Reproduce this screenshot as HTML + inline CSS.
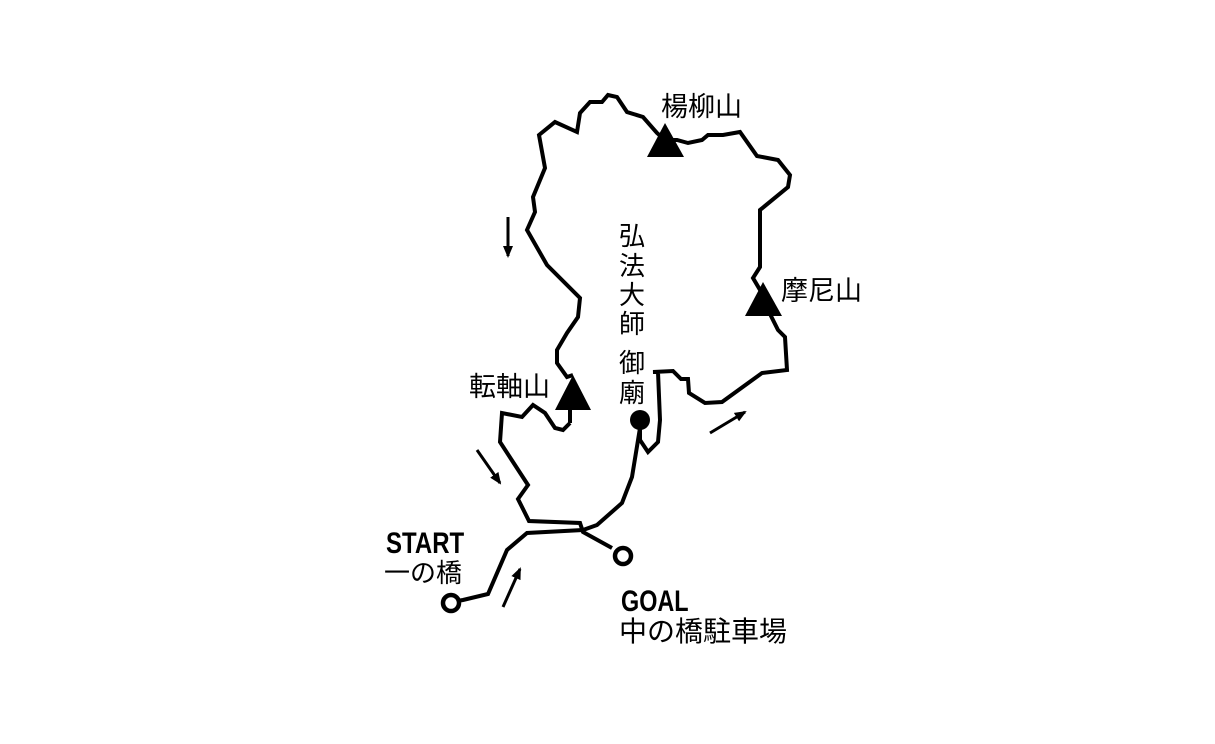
<!DOCTYPE html>
<html><head><meta charset="utf-8"><style>
body{margin:0;background:#fff;width:1215px;height:744px;overflow:hidden}
svg{display:block}
text{font-family:"Liberation Sans","Noto Sans CJK JP",sans-serif;fill:#000}
</style></head><body>
<svg width="1215" height="744" viewBox="0 0 1215 744">
<defs><marker id="ah" markerWidth="12" markerHeight="10" refX="10" refY="5" orient="auto" markerUnits="userSpaceOnUse"><path d="M0,0 L12,5 L0,10 Z" fill="#000"/></marker></defs>
<g fill="none" stroke="#000" stroke-width="4" stroke-linejoin="miter">
<polyline points="570,423 563,430 555,428 545,413 533,405 522,417 502,413 500,442 528,485 518,499 529,521 580,523 583,532 612,548"/>
<polyline points="451,602 463,600 488,594 507,550 527,533 583,530 597,525 622,503 632,477 640,428 640,440 648,452 658,442 660,420 658,372 653,372 673,371 681,379 688,379 689,393 705,403 722,402 762,373 787,370 785,337 778,330 773,320 763,300"/>
<polyline points="570,410 570,423"/>
<polyline points="573,375 567,377 557,363 557,350 567,333 578,317 580,298 547,265 527,230 535,212 533,197 545,168 539,135 555,122 577,132 580,113 590,102 602,102 608,95 617,97 627,112 643,117 657,133 665,140 677,140 688,143 702,140 708,135 723,135 740,132 757,156 778,160 790,175 788,187 760,210 760,267 753,278 763,295"/>
<line x1="508" y1="217" x2="508" y2="256" stroke-width="3" marker-end="url(#ah)"/>
<line x1="477" y1="450" x2="500" y2="483" stroke-width="3" marker-end="url(#ah)"/>
<line x1="503" y1="607" x2="520" y2="569" stroke-width="3" marker-end="url(#ah)"/>
<line x1="710" y1="433" x2="745" y2="412" stroke-width="3" marker-end="url(#ah)"/>
<circle cx="451" cy="603" r="8" stroke-width="4.5" fill="#fff"/>
<circle cx="623" cy="556" r="8" stroke-width="4.5" fill="#fff"/>
</g>
<polygon points="665,123 647,157 684,157" fill="#000"/>
<polygon points="763,282 745,316 782,316" fill="#000"/>
<polygon points="573,375 555,410 591,410" fill="#000"/>
<circle cx="640" cy="420" r="10" fill="#000"/>
<g font-size="27">
<text x="661" y="116">楊柳山</text>
<text x="781" y="300">摩尼山</text>
<text x="469" y="396">転軸山</text>
</g>
<g font-size="26" text-anchor="middle">
<text x="632" y="245">弘</text><text x="632" y="275">法</text><text x="632" y="304">大</text><text x="632" y="333">師</text>
<text x="632" y="372">御</text><text x="632" y="402">廟</text>
</g>
<text x="386" y="553" font-size="30" font-weight="bold" transform="translate(386 0) scale(0.8 1) translate(-386 0)">START</text>
<text x="384" y="582" font-size="26">一の橋</text>
<text x="621" y="611" font-size="30" font-weight="bold" transform="translate(621 0) scale(0.78 1) translate(-621 0)">GOAL</text>
<text x="619" y="641" font-size="28">中の橋駐車場</text>
</svg>
</body></html>
